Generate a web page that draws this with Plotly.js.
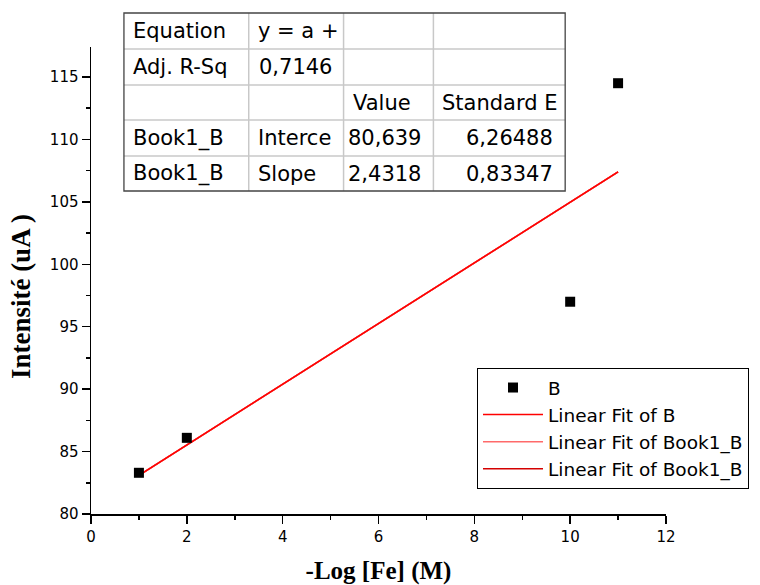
<!DOCTYPE html>
<html>
<head>
<meta charset="utf-8">
<script src="https://cdn.plot.ly/plotly-3.0.1.min.js"></script>
<style>
html,body{margin:0;padding:0;background:#fff;}
#chart{width:760px;height:585px;}
</style>
</head>
<body>
<div id="chart"></div>
<script>
// ---- data ----
const concX = [1, 2, 10, 11];
const intensityY = [83.3, 86.1, 97.0, 114.5];
const fitX = [1, 11];
const fitY = [83.1, 107.4];
const seriesName = "B";
const fitNames = ["Linear Fit of B", "Linear Fit of Book1_B", "Linear Fit of Book1_B"];
const tableRow0 = ["Equation", "y = a +", "", ""];
const tableRow1 = ["Adj. R-Sq", "0,7146", "", ""];
const tableRow2 = ["", "", "Value", "Standard E"];
const tableRow3 = ["Book1_B", "Interce", "80,639", "6,26488"];
const tableRow4 = ["Book1_B", "Slope", "2,4318", "0,83347"];
const xTitle = "-Log [Fe] (M)";
const yTitle = "Intensité (uA )";

// ---- layout helpers (pixel -> paper) ----
const L = 91, R = 667, T = 47, B = 514;
const px = v => (v - L) / (R - L);
const py = v => (B - v) / (B - T);

const traces = [
  {x: fitX, y: fitY, mode: 'lines', name: fitNames[2], line: {color: '#d40000', width: 1.5}, legendrank: 4},
  {x: fitX, y: fitY, mode: 'lines', name: fitNames[1], line: {color: '#ff6a6a', width: 1.5}, legendrank: 3},
  {x: fitX, y: fitY, mode: 'lines', name: fitNames[0], line: {color: '#ff0000', width: 1.5}, legendrank: 2},
  {x: concX, y: intensityY, mode: 'markers', name: seriesName,
   marker: {symbol: 'square', size: 10, color: '#000'}, legendrank: 1}
];

// table
const rows = [tableRow0, tableRow1, tableRow2, tableRow3, tableRow4];
const colEdges = [124, 249, 344, 434, 566];
const rowEdges = [13, 49, 85, 120, 156, 191];
const shapes = [];
const annotations = [];
for (let i = 1; i < colEdges.length - 1; i++) {
  shapes.push({type: 'line', xref: 'paper', yref: 'paper', x0: px(colEdges[i]), x1: px(colEdges[i]),
    y0: py(rowEdges[0]), y1: py(rowEdges[rowEdges.length - 1]), line: {color: '#c8c8c8', width: 1.5}});
}
for (let j = 1; j < rowEdges.length - 1; j++) {
  shapes.push({type: 'line', xref: 'paper', yref: 'paper', x0: px(colEdges[0]), x1: px(colEdges[colEdges.length - 1]),
    y0: py(rowEdges[j]), y1: py(rowEdges[j]), line: {color: '#c8c8c8', width: 1.5}});
}
shapes.push({type: 'rect', xref: 'paper', yref: 'paper', x0: px(colEdges[0]), x1: px(colEdges[colEdges.length - 1]),
  y0: py(rowEdges[0]), y1: py(rowEdges[rowEdges.length - 1]), line: {color: '#444', width: 1.3}, fillcolor: 'rgba(0,0,0,0)'});

rows.forEach((row, j) => {
  row.forEach((txt, i) => {
    if (!txt) return;
    const numeric = /^[\d,]+$/.test(txt);
    const yc = (rowEdges[j] + rowEdges[j + 1]) / 2;
    annotations.push({
      xref: 'paper', yref: 'paper', showarrow: false, text: txt,
      x: numeric ? px(colEdges[i + 1] - 10) : px(colEdges[i] + 7),
      xanchor: numeric ? 'right' : 'left',
      y: py(yc), yanchor: 'middle',
      font: {family: 'DejaVu Sans', size: 21, color: '#000'}
    });
  });
});

// y-axis title (placed as in the reference, slightly below the axis centre)
annotations.push({
  xref: 'paper', yref: 'paper', showarrow: false, text: yTitle, textangle: -90,
  x: px(21), y: py(297), xanchor: 'center', yanchor: 'middle',
  font: {family: 'Liberation Serif', size: 27, color: '#000', weight: 'bold'}
});

const tickFont = {family: 'DejaVu Sans', size: 15, color: '#000'};
const layout = {
  width: 760, height: 585,
  margin: {l: L, r: 760 - R, t: T, b: 585 - B, pad: 0},
  paper_bgcolor: '#fff', plot_bgcolor: '#fff',
  showlegend: true,
  legend: {
    x: px(477), y: py(368), xanchor: 'left', yanchor: 'top',
    bordercolor: '#000', borderwidth: 1, bgcolor: '#fff',
    font: {family: 'DejaVu Sans', size: 18.5, color: '#000'},
    itemwidth: 60, tracegroupgap: 0
  },
  xaxis: {
    range: [0, 12], dtick: 2, tick0: 0, showgrid: false, zeroline: false,
    showline: true, linecolor: '#000', linewidth: 1.5,
    ticks: 'outside', ticklen: 8, tickwidth: 1.5, tickcolor: '#000',
    minor: {dtick: 1, ticks: 'outside', ticklen: 4, tickwidth: 1.5, tickcolor: '#000', showgrid: false},
    tickfont: tickFont,
    title: {text: xTitle, font: {family: 'Liberation Serif', size: 25, color: '#000', weight: 'bold'}, standoff: 18}
  },
  yaxis: {
    range: [80, 117.4], dtick: 5, tick0: 80, showgrid: false, zeroline: false,
    showline: true, linecolor: '#000', linewidth: 1.5,
    ticks: 'outside', ticklen: 8, tickwidth: 1.5, tickcolor: '#000',
    minor: {dtick: 2.5, ticks: 'outside', ticklen: 4, tickwidth: 1.5, tickcolor: '#000', showgrid: false},
    tickfont: tickFont
  },
  shapes: shapes,
  annotations: annotations
};

Plotly.newPlot('chart', traces, layout, {displayModeBar: false, staticPlot: true});
</script>
</body>
</html>
